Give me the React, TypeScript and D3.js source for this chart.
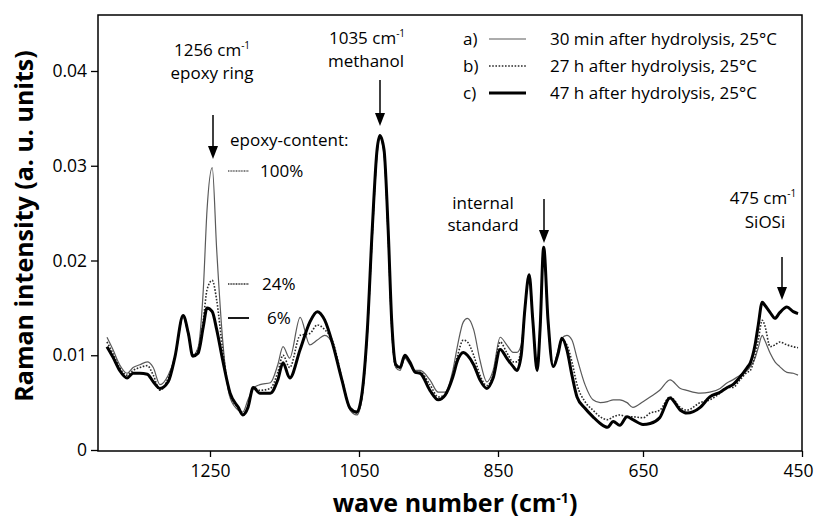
import { useEffect, useRef } from "react";
import * as d3 from "d3";

// wave numbers (cm-1), left to right
const wavenumbers = [
  1388, 1380, 1371, 1361, 1353, 1344, 1334, 1326, 1317, 1306, 1297, 1286, 1279, 1273, 1266, 1259, 1254, 1247,
  1241, 1233, 1223, 1212, 1206, 1199, 1192, 1183, 1169, 1159, 1152, 1143, 1129, 1116, 1106, 1096, 1085, 1073,
  1062, 1053, 1046, 1038, 1031, 1024, 1020, 1014, 1008, 1003, 997, 991, 984, 977, 969, 962, 948, 936, 926, 915,
  908, 900, 894, 885, 876, 866, 857, 847, 838, 829, 824, 818, 813, 807, 802, 796, 792, 787, 781, 774, 767, 762,
  755, 748, 741, 730, 719, 709, 699, 691, 682, 672, 664, 650, 641, 629, 616, 603, 595, 578, 566, 553, 544, 537,
  528, 519, 515, 509, 505, 500, 497, 490, 484, 478, 469, 461, 455,
];

// a) 30 min after hydrolysis
const seriesA = [
  0.0119, 0.0106, 0.009, 0.0081, 0.0087, 0.009, 0.0093, 0.0087, 0.0069, 0.0079, 0.0098, 0.014, 0.0121, 0.01,
  0.0108, 0.0169, 0.0253, 0.0298, 0.0211, 0.0116, 0.0055, 0.0042, 0.004, 0.0053, 0.0065, 0.0069, 0.0071, 0.009,
  0.0109, 0.0097, 0.014, 0.0111, 0.0116, 0.0121, 0.0111, 0.0074, 0.0042, 0.0037, 0.0053, 0.0121, 0.0222, 0.0311,
  0.0329, 0.0311, 0.0222, 0.0127, 0.0087, 0.0084, 0.0097, 0.009, 0.0084, 0.0084, 0.0074, 0.0061, 0.0061, 0.0084,
  0.0111, 0.0135, 0.0139, 0.0127, 0.0095, 0.0072, 0.0084, 0.0119, 0.0111, 0.0103, 0.0103, 0.0111, 0.0148,
  0.0185, 0.0137, 0.0084, 0.0127, 0.0214, 0.0137, 0.0088, 0.0106, 0.0118, 0.0121, 0.0116, 0.0097, 0.0069,
  0.0053, 0.005, 0.0051, 0.0053, 0.0053, 0.005, 0.0045, 0.0051, 0.0056, 0.0063, 0.0074, 0.0065, 0.0063, 0.006,
  0.0061, 0.0065, 0.0071, 0.0074, 0.0079, 0.0084, 0.0088, 0.0097, 0.0108, 0.0121, 0.0116, 0.0102, 0.0093,
  0.0088, 0.0082, 0.0081, 0.0079,
];

// b) 27 h after hydrolysis
const seriesB = [
  0.0114, 0.0102, 0.0087, 0.0079, 0.0084, 0.0087, 0.0089, 0.0079, 0.0063, 0.0076, 0.0098, 0.0142, 0.0123, 0.01,
  0.0106, 0.0137, 0.0169, 0.0179, 0.0158, 0.0106, 0.0058, 0.0044, 0.0037, 0.0047, 0.0066, 0.0063, 0.0065,
  0.0082, 0.01, 0.0087, 0.0121, 0.0123, 0.0132, 0.0127, 0.0114, 0.0076, 0.0044, 0.0039, 0.0055, 0.0125, 0.0227,
  0.0315, 0.0331, 0.0315, 0.0227, 0.0132, 0.0088, 0.0087, 0.0098, 0.0092, 0.0082, 0.0082, 0.0069, 0.0056,
  0.0058, 0.0079, 0.01, 0.0116, 0.0114, 0.01, 0.0079, 0.0068, 0.0079, 0.0114, 0.0103, 0.0093, 0.0093, 0.0106,
  0.0148, 0.0185, 0.0137, 0.0084, 0.0127, 0.0214, 0.0137, 0.0088, 0.0103, 0.0116, 0.0111, 0.0093, 0.0069,
  0.0051, 0.0042, 0.0035, 0.0032, 0.0035, 0.0037, 0.0035, 0.0035, 0.0034, 0.0039, 0.0042, 0.0056, 0.0045,
  0.0042, 0.005, 0.0053, 0.006, 0.0066, 0.0066, 0.0074, 0.0082, 0.0084, 0.01, 0.0116, 0.0137, 0.0132, 0.0109,
  0.0111, 0.0114, 0.0111, 0.0109, 0.0108,
];

// c) 47 h after hydrolysis
const seriesC = [
  0.0109, 0.0098, 0.0084, 0.0076, 0.0081, 0.0081, 0.008, 0.0072, 0.0065, 0.0072, 0.0098, 0.0142, 0.0123,
  0.0099, 0.0102, 0.013, 0.015, 0.0146, 0.0127, 0.0095, 0.006, 0.0045, 0.0037, 0.0045, 0.0066, 0.006, 0.006,
  0.0074, 0.0092, 0.0076, 0.0106, 0.0135, 0.0146, 0.0137, 0.0111, 0.0074, 0.0044, 0.004, 0.0058, 0.0127,
  0.0232, 0.0317, 0.0332, 0.0317, 0.0232, 0.0137, 0.009, 0.0087, 0.01, 0.0093, 0.0082, 0.0081, 0.0063, 0.0053,
  0.0058, 0.0077, 0.0095, 0.0103, 0.01, 0.009, 0.0074, 0.0065, 0.0076, 0.0106, 0.0097, 0.0088, 0.0084, 0.01,
  0.0148, 0.0185, 0.0137, 0.0084, 0.0127, 0.0214, 0.0137, 0.0088, 0.0102, 0.0118, 0.0106, 0.0079, 0.0056,
  0.0044, 0.0035, 0.0028, 0.0024, 0.003, 0.0026, 0.0035, 0.0032, 0.0027, 0.0028, 0.0034, 0.0055, 0.0042,
  0.0039, 0.0045, 0.0056, 0.0061, 0.0066, 0.0069, 0.0077, 0.0087, 0.0092, 0.0111, 0.0132, 0.0156, 0.0153,
  0.0145, 0.0139, 0.0145, 0.0151, 0.0146, 0.0144,
];

const xTicks = [1250, 1050, 850, 650, 450];
const yTicks = [0, 0.01, 0.02, 0.03, 0.04];

const legendKeys = ["a)", "b)", "c)"];
const legendLabels = [
  "30 min after hydrolysis, 25°C",
  "27 h after hydrolysis, 25°C",
  "47 h after hydrolysis, 25°C",
];
const epoxyLabels = ["100%", "24%", "6%"];

const W = 816;
const H = 523;
const left = 98;
const right = 802;
const top = 15;
const bottom = 451;
const FONT = "'Open Sans', 'DejaVu Sans', sans-serif";

const styles = [
  { stroke: "#5a5a5a", width: 1.2, dash: null },
  { stroke: "#2a2a2a", width: 1.6, dash: "1.6 1.6" },
  { stroke: "#000", width: 3, dash: null },
];

const Arrow = ({ x, y1, y2 }: { x: number; y1: number; y2: number }) => (
  <g>
    <line x1={x} x2={x} y1={y1} y2={y2 - 10} stroke="#000" strokeWidth={1.5} />
    <path d={`M${x - 5},${y2 - 13} L${x + 5},${y2 - 13} L${x},${y2} Z`} fill="#000" />
  </g>
);

const App = () => {
  const xAxisRef = useRef<SVGGElement>(null);
  const yAxisRef = useRef<SVGGElement>(null);

  // the printed axis is not evenly spaced, so the scale is piecewise
  const x = d3
    .scaleLinear()
    .domain([1400, 1250, 1050, 850, 650, 450])
    .range([left, 210, 359, 498, 643, right]);
  const y = d3.scaleLinear().domain([0, 0.04]).range([450, 71]);

  const line = d3
    .line<number>()
    .x((_, i) => x(wavenumbers[i]))
    .y((d) => y(d))
    .curve(d3.curveMonotoneX);

  const series = [seriesA, seriesB, seriesC];

  useEffect(() => {
    const xAxis = d3.axisBottom(x).tickValues(xTicks).tickSize(6).tickPadding(8).tickFormat(d3.format("d"));
    const yAxis = d3
      .axisLeft(y)
      .tickValues(yTicks)
      .tickSize(7)
      .tickPadding(4)
      .tickFormat((d) => (+d === 0 ? "0" : (+d).toFixed(2)));

    const gx = d3.select(xAxisRef.current!).call(xAxis);
    const gy = d3.select(yAxisRef.current!).call(yAxis);
    [gx, gy].forEach((g) => {
      g.select(".domain").remove();
      g.selectAll(".tick line").attr("stroke", "#000").attr("stroke-width", 1.3);
      g.selectAll(".tick text")
        .attr("fill", "#000")
        .style("font-family", FONT)
        .style("font-size", "17.5px");
    });
    // last label sits against the page edge
    gx.selectAll<SVGTextElement, number>(".tick text")
      .filter((d) => d === 450)
      .attr("dx", -4);
  }, []);

  return (
    <svg
      width={W}
      height={H}
      style={{ position: "absolute", left: 0, top: 0, display: "block", background: "#fff" }}
    >
      <rect x={0} y={0} width={W} height={H} fill="#fff" />

      {series.map((s, i) => (
        <path
          key={i}
          d={line(s) ?? ""}
          fill="none"
          stroke={styles[i].stroke}
          strokeWidth={styles[i].width}
          strokeDasharray={styles[i].dash ?? undefined}
          strokeLinejoin="round"
        />
      ))}

      <rect x={left} y={top} width={right - left} height={bottom - top} fill="none" stroke="#000" strokeWidth={1.5} />
      <g ref={xAxisRef} transform={`translate(0,${bottom})`} />
      <g ref={yAxisRef} transform={`translate(${left},0)`} />

      <text
        transform="translate(33,226) rotate(-90)"
        textAnchor="middle"
        fontFamily={FONT}
        fontWeight="bold"
        fontSize={25}
      >
        Raman intensity (a. u. units)
      </text>
      <text x={455} y={512} textAnchor="middle" fontFamily={FONT} fontWeight="bold" fontSize={25}>
        wave number (cm<tspan dy={-9} fontSize={14}>-1</tspan>
        <tspan dy={9}>)</tspan>
      </text>

      <g fontFamily={FONT} fontSize={17} fill="#000">
        {legendKeys.map((k, i) => (
          <g key={k}>
            <text x={463} y={45 + i * 27}>
              {k}
            </text>
            <line
              x1={489}
              x2={526}
              y1={39 + i * 27}
              y2={39 + i * 27}
              stroke={styles[i].stroke}
              strokeWidth={styles[i].width}
              strokeDasharray={styles[i].dash ?? undefined}
            />
            <text x={550} y={45 + i * 27}>
              {legendLabels[i]}
            </text>
          </g>
        ))}

        <text x={212} y={56} textAnchor="middle">
          1256 cm<tspan dy={-7} fontSize={10}>-1</tspan>
        </text>
        <text x={212} y={79} textAnchor="middle">
          epoxy ring
        </text>
        <Arrow x={213} y1={115} y2={159} />

        <text x={367} y={44} textAnchor="middle">
          1035 cm<tspan dy={-7} fontSize={10}>-1</tspan>
        </text>
        <text x={366} y={67} textAnchor="middle">
          methanol
        </text>
        <Arrow x={380} y1={80} y2={126} />

        <text x={230} y={146}>epoxy-content:</text>
        {epoxyLabels.map((lab, i) => {
          const ly = [171, 284, 318][i];
          return (
            <g key={lab}>
              <line
                x1={228}
                x2={249}
                y1={ly}
                y2={ly}
                stroke={styles[i].stroke}
                strokeWidth={i === 2 ? 1.8 : 1.6}
                strokeDasharray={i === 2 ? undefined : "1 0.6"}
              />
              <text x={[260, 262, 267][i]} y={ly + 6}>
                {lab}
              </text>
            </g>
          );
        })}

        <text x={483} y={209} textAnchor="middle">
          internal
        </text>
        <text x={483} y={231} textAnchor="middle">
          standard
        </text>
        <Arrow x={544} y1={199} y2={243} />

        <text x={763} y={204} textAnchor="middle">
          475 cm<tspan dy={-7} fontSize={10}>-1</tspan>
        </text>
        <text x={765} y={228} textAnchor="middle">
          SiOSi
        </text>
        <Arrow x={782} y1={257} y2={300} />
      </g>
    </svg>
  );
};

export default App;
